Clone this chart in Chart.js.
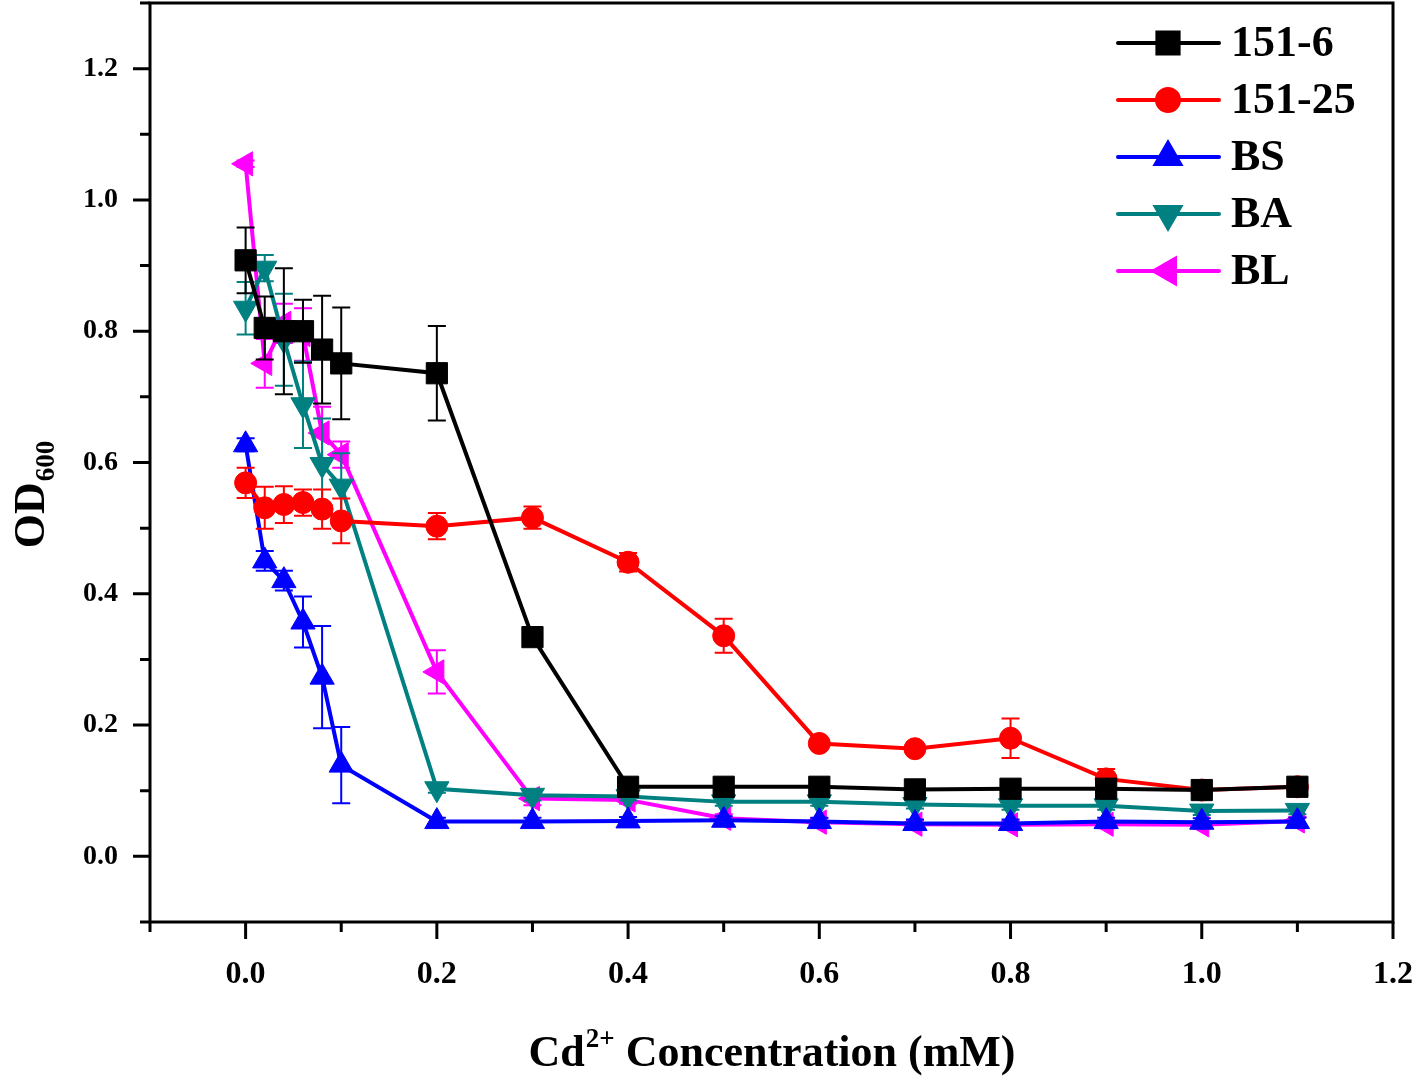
<!DOCTYPE html>
<html>
<head>
<meta charset="utf-8">
<title>OD600 vs Cd2+ concentration</title>
<script src="https://cdn.jsdelivr.net/npm/chart.js@4.4.0/dist/chart.umd.min.js"></script>
<style>
    html, body { margin: 0; padding: 0; background: #fff; }
    #wrap { width: 1418px; height: 1078px; }
</style>
</head>
<body>
<div id="wrap"><canvas id="odChart" width="1418" height="1078"></canvas></div>
<script>
// Cd2+ concentration (mM)
const conc = [0, 0.02, 0.04, 0.06, 0.08, 0.1, 0.2, 0.3, 0.4, 0.5, 0.6, 0.7, 0.8, 0.9, 1.0, 1.1];

// OD600 per strain, with error bars
const od151_6 = [0.908, 0.805, 0.800, 0.800, 0.772, 0.751, 0.736, 0.334, 0.106, 0.106, 0.106, 0.102, 0.103, 0.103, 0.101, 0.106];
const err151_6 = [0.050, 0.048, 0.096, 0.048, 0.082, 0.085, 0.072, 0.012, 0.005, 0.005, 0.005, 0.005, 0.005, 0.005, 0.005, 0.005];

const od151_25 = [0.569, 0.531, 0.536, 0.539, 0.529, 0.511, 0.503, 0.516, 0.448, 0.336, 0.172, 0.164, 0.180, 0.118, 0.101, 0.106];
const err151_25 = [0.023, 0.032, 0.028, 0.020, 0.030, 0.034, 0.020, 0.017, 0.014, 0.026, 0.006, 0.006, 0.030, 0.015, 0.008, 0.008];

const odBS = [0.627, 0.450, 0.420, 0.357, 0.273, 0.139, 0.053, 0.053, 0.054, 0.055, 0.053, 0.050, 0.050, 0.053, 0.052, 0.053];
const errBS = [0.010, 0.015, 0.015, 0.039, 0.078, 0.058, 0.006, 0.006, 0.006, 0.006, 0.006, 0.006, 0.006, 0.006, 0.006, 0.006];

const odBA = [0.835, 0.896, 0.787, 0.688, 0.597, 0.564, 0.103, 0.093, 0.091, 0.083, 0.083, 0.079, 0.077, 0.077, 0.069, 0.070];
const errBA = [0.040, 0.020, 0.070, 0.066, 0.070, 0.050, 0.006, 0.008, 0.006, 0.006, 0.006, 0.006, 0.006, 0.006, 0.006, 0.006];

const odBL = [1.055, 0.751, 0.812, 0.795, 0.645, 0.612, 0.281, 0.088, 0.086, 0.058, 0.052, 0.049, 0.048, 0.049, 0.048, 0.054];
const errBL = [0.005, 0.037, 0.030, 0.040, 0.040, 0.020, 0.033, 0.010, 0.006, 0.006, 0.006, 0.006, 0.006, 0.006, 0.006, 0.006];

const xMajor = [0, 0.2, 0.4, 0.6, 0.8, 1.0, 1.2];
const xMinor = [-0.1, 0.1, 0.3, 0.5, 0.7, 0.9, 1.1];
const yMajor = [0, 0.2, 0.4, 0.6, 0.8, 1.0, 1.2];
const yMinor = [-0.1, 0.1, 0.3, 0.5, 0.7, 0.9, 1.1, 1.3];

const serif = "'Liberation Serif', 'Times New Roman', serif";

function makeSeries(label, values, errors, color, style, rotation, radius) {
    return {
        label: label,
        data: conc.map((c, i) => ({ x: c, y: values[i] })),
        errors: errors,
        showLine: true,
        borderColor: color,
        backgroundColor: color,
        borderWidth: 4,
        pointStyle: style,
        rotation: rotation,
        pointRadius: radius,
        pointBackgroundColor: color,
        pointBorderColor: color,
        pointBorderWidth: 1,
        clip: false
    };
}

const datasets = [
    makeSeries('151-6', od151_6, err151_6, '#000000', 'rect', 0, 15),
    makeSeries('151-25', od151_25, err151_25, '#ff0000', 'circle', 0, 11),
    makeSeries('BS', odBS, errBS, '#0000ff', 'triangle', 0, 14),
    makeSeries('BA', odBA, errBA, '#008080', 'triangle', 180, 14),
    makeSeries('BL', odBL, errBL, '#ff00ff', 'triangle', -90, 14)
];

function noPadding(axis) {
    axis.paddingLeft = 0;
    axis.paddingRight = 0;
    axis.paddingTop = 0;
    axis.paddingBottom = 0;
}

// error bars, frame, ticks, axis titles and legend
const decorations = {
    id: 'decorations',
    afterDatasetDraw(chart, args) {
        const ds = chart.data.datasets[args.index];
        const yScale = chart.scales.y;
        const ctx = chart.ctx;
        ctx.save();
        ctx.strokeStyle = ds.borderColor;
        ctx.lineWidth = 2;
        args.meta.data.forEach((pt, j) => {
            const v = ds.data[j].y, e = ds.errors[j];
            const top = yScale.getPixelForValue(v + e);
            const bot = yScale.getPixelForValue(v - e);
            ctx.beginPath();
            ctx.moveTo(pt.x, top); ctx.lineTo(pt.x, bot);
            ctx.moveTo(pt.x - 9, top); ctx.lineTo(pt.x + 9, top);
            ctx.moveTo(pt.x - 9, bot); ctx.lineTo(pt.x + 9, bot);
            ctx.stroke();
        });
        ctx.restore();
    },
    afterDraw(chart) {
        const ctx = chart.ctx;
        const a = chart.chartArea;
        const xs = chart.scales.x, ys = chart.scales.y;
        ctx.save();
        ctx.strokeStyle = '#000';
        ctx.lineWidth = 3;
        ctx.strokeRect(a.left, a.top, a.right - a.left, a.bottom - a.top);

        ctx.beginPath();
        xMajor.forEach(v => { const px = xs.getPixelForValue(v); ctx.moveTo(px, a.bottom); ctx.lineTo(px, a.bottom + 17); });
        xMinor.forEach(v => { const px = xs.getPixelForValue(v); ctx.moveTo(px, a.bottom); ctx.lineTo(px, a.bottom + 10); });
        yMajor.forEach(v => { const py = ys.getPixelForValue(v); ctx.moveTo(a.left, py); ctx.lineTo(a.left - 17, py); });
        yMinor.forEach(v => { const py = ys.getPixelForValue(v); ctx.moveTo(a.left, py); ctx.lineTo(a.left - 10, py); });
        ctx.stroke();

        // x axis title with superscript
        ctx.fillStyle = '#000';
        ctx.textBaseline = 'alphabetic';
        const big = 'bold 44px ' + serif, small = 'bold 27px ' + serif;
        ctx.font = big;
        const wCd = ctx.measureText('Cd').width;
        const wRest = ctx.measureText(' Concentration (mM)').width;
        ctx.font = small;
        const wSup = ctx.measureText('2+').width;
        const x0 = (a.left + a.right) / 2 - (wCd + wSup + wRest) / 2;
        const yb = 1066;
        ctx.font = big; ctx.textAlign = 'left';
        ctx.fillText('Cd', x0, yb);
        ctx.font = small;
        ctx.fillText('2+', x0 + wCd + 1, yb - 19);
        ctx.font = big;
        ctx.fillText(' Concentration (mM)', x0 + wCd + wSup + 1, yb);

        // y axis title with subscript
        ctx.save();
        ctx.translate(44, 495);
        ctx.rotate(-Math.PI / 2);
        ctx.font = big;
        const wOD = ctx.measureText('OD').width;
        ctx.font = small;
        const wSub = ctx.measureText('600').width;
        const s0 = -(wOD + wSub) / 2;
        ctx.font = big;
        ctx.fillText('OD', s0, 0);
        ctx.font = small;
        ctx.fillText('600', s0 + wOD + 1, 10);
        ctx.restore();

        // legend
        ctx.font = 'bold 44px ' + serif;
        ctx.textBaseline = 'middle';
        chart.data.datasets.forEach((ds, i) => {
            const ly = 43 + 57 * i;
            ctx.strokeStyle = ds.borderColor;
            ctx.lineWidth = 4;
            ctx.lineCap = 'round';
            ctx.beginPath();
            ctx.moveTo(1118, ly); ctx.lineTo(1219, ly);
            ctx.stroke();
            ctx.fillStyle = ds.borderColor;
            Chart.helpers.drawPoint(ctx, {
                pointStyle: ds.pointStyle,
                radius: ds.pointRadius,
                rotation: ds.rotation,
                borderWidth: 1
            }, 1168, ly);
            ctx.fillStyle = '#000';
            ctx.fillText(ds.label, 1231, ly + 2);
        });
        ctx.restore();
    }
};

const ctx = document.getElementById('odChart').getContext('2d');
const odChart = new Chart(ctx, {
    type: 'scatter',
    data: { datasets: datasets },
    options: {
        responsive: false,
        animation: false,
        devicePixelRatio: 1,
        layout: { autoPadding: false, padding: { top: 3, right: 25, left: 0, bottom: 0 } },
        plugins: {
            legend: { display: false },
            tooltip: { enabled: false }
        },
        scales: {
            x: {
                type: 'linear',
                min: -0.1,
                max: 1.2,
                afterBuildTicks: (axis) => { axis.ticks = xMajor.map(v => ({ value: v })); },
                afterFit: (axis) => { axis.height = 156; noPadding(axis); },
                grid: { display: false, drawTicks: false },
                border: { display: false },
                ticks: {
                    padding: 34,
                    color: '#000',
                    maxRotation: 0,
                    font: { family: serif, size: 32, weight: 'bold' },
                    callback: (v) => v.toFixed(1)
                }
            },
            y: {
                type: 'linear',
                min: -0.1,
                max: 1.3,
                afterBuildTicks: (axis) => { axis.ticks = yMajor.map(v => ({ value: v })); },
                afterFit: (axis) => { axis.width = 150; noPadding(axis); },
                grid: { display: false, drawTicks: false },
                border: { display: false },
                ticks: {
                    padding: 32,
                    color: '#000',
                    font: { family: serif, size: 28, weight: 'bold' },
                    callback: (v) => v.toFixed(1)
                }
            }
        }
    },
    plugins: [decorations]
});
</script>
</body>
</html>
